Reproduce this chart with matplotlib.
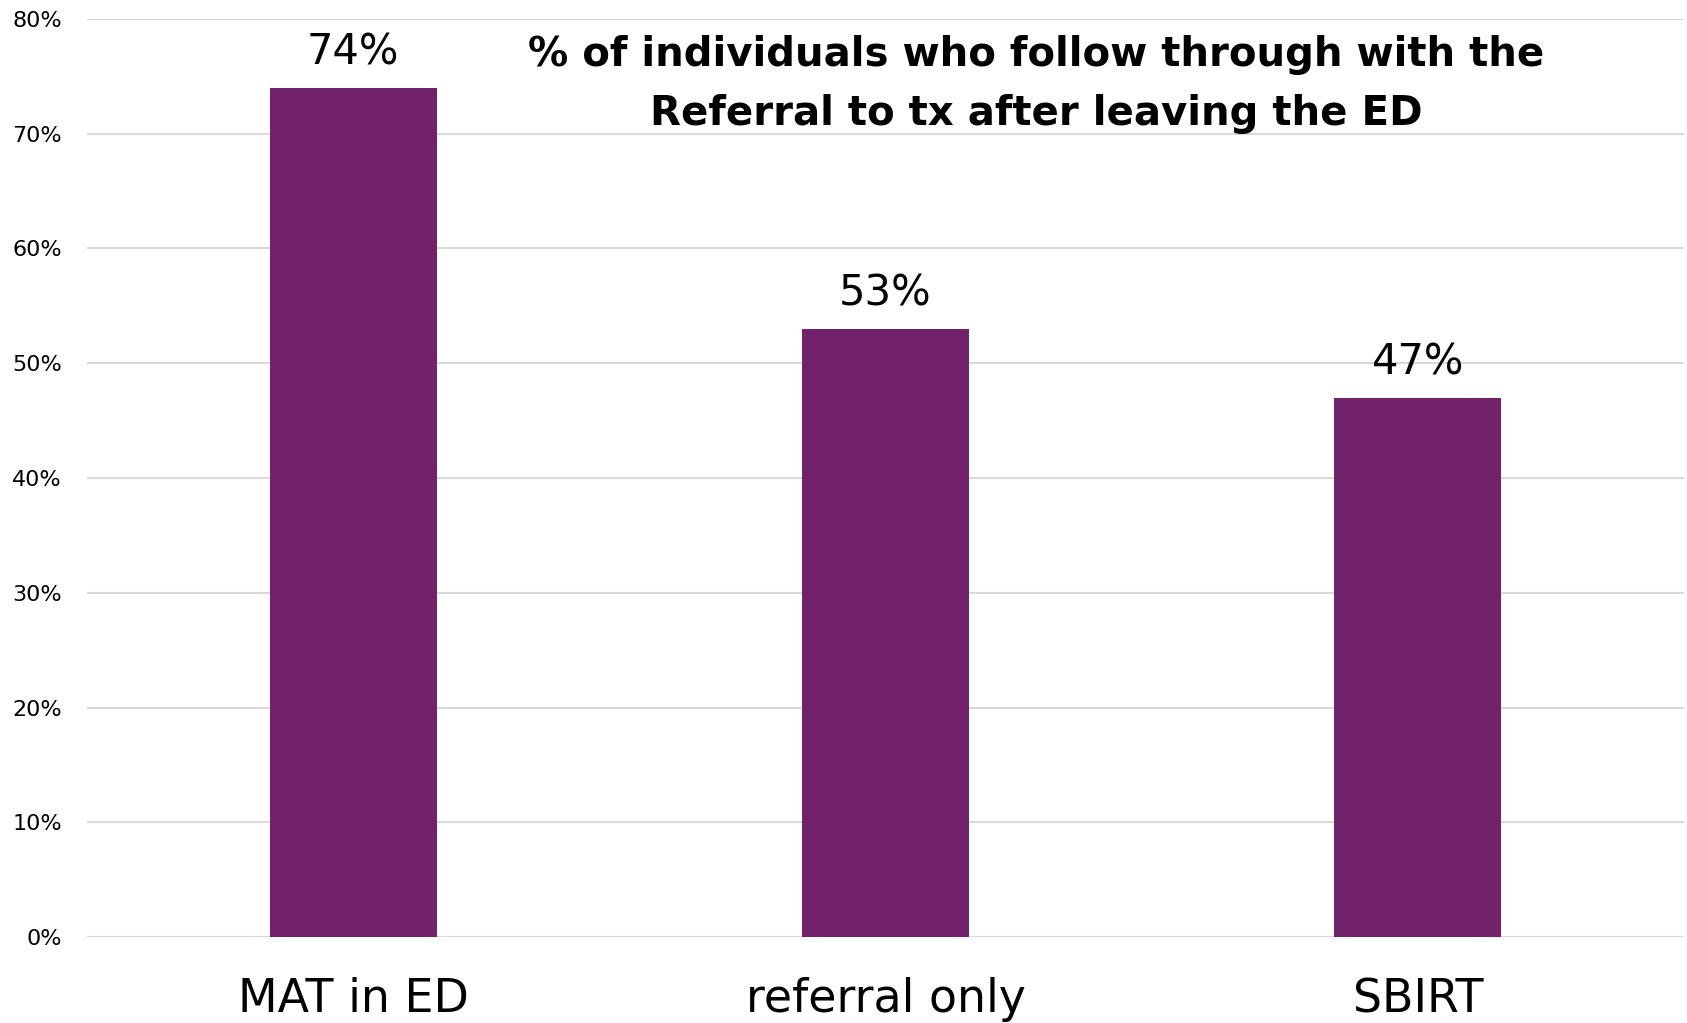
import matplotlib
matplotlib.use("Agg")
import matplotlib.pyplot as plt
from matplotlib.ticker import FuncFormatter

categories = ["MAT in ED", "referral only", "SBIRT"]
follow_through_pct = [74, 53, 47]
y_ticks = [0, 10, 20, 30, 40, 50, 60, 70, 80]

title_text = "% of individuals who follow through with the\nReferral to tx after leaving the ED"

bar_color = "#71226B"
grid_color = "#D9D9D9"

plt.rcParams["font.family"] = ["DejaVu Sans"]

fig = plt.figure(figsize=(16.87, 10.23), dpi=100)
ax = fig.add_axes([87 / 1687, 1 - 937 / 1023, (1684 - 87) / 1687, (937 - 19) / 1023])

x = range(len(categories))
bars = ax.bar(x, follow_through_pct, width=0.314, color=bar_color, zorder=3)

for rect, v in zip(bars, follow_through_pct):
    ax.annotate(f"{v}%", (rect.get_x() + rect.get_width() / 2, v),
                xytext=(0, 10), textcoords="offset points",
                ha="center", va="bottom", fontsize=30, color="black")

ax.set_xlim(-0.5, len(categories) - 0.5)
ax.set_ylim(0, 80)
ax.set_yticks(y_ticks)
ax.yaxis.set_major_formatter(FuncFormatter(lambda v, p: f"{int(v)}%"))
ax.set_xticks(list(x))
ax.set_xticklabels(categories)

ax.tick_params(axis="y", length=0, pad=18, labelsize=16, labelcolor="black")
ax.tick_params(axis="x", length=0, pad=29, labelsize=33, labelcolor="black")

ax.grid(axis="y", color=grid_color, linewidth=1.5, zorder=0)
for s in ax.spines.values():
    s.set_visible(False)

fig.text(1036 / 1687, 1 - 19 / 1023 - 0.016, title_text, ha="center", va="top",
         fontsize=29, fontweight="bold", linespacing=1.6, color="black")

fig.savefig("out.png", dpi=100, facecolor="white")
